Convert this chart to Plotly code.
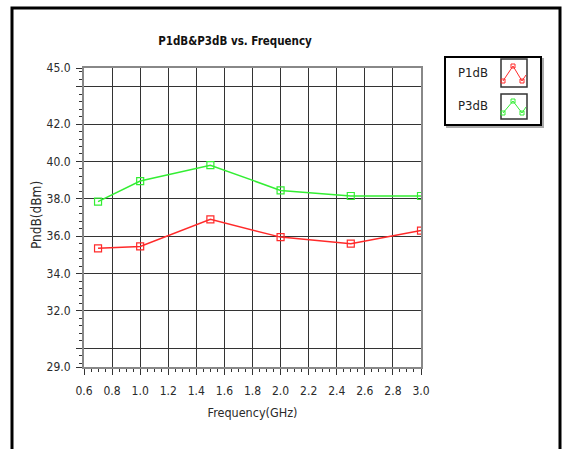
import plotly.graph_objects as go

freq = [0.7, 1.0, 1.5, 2.0, 2.5, 3.0]
p1db = [35.35, 35.45, 36.9, 35.95, 35.6, 36.3]
p3db = [37.85, 38.95, 39.8, 38.45, 38.15, 38.15]
y_tickvals = [29, 30, 32, 34, 36, 38, 40, 42, 44, 45]
y_ticktext = ["29.0", "", "32.0", "34.0", "36.0", "38.0", "40.0", "42.0", "", "45.0"]
x_tickvals = [0.6, 0.8, 1.0, 1.2, 1.4, 1.6, 1.8, 2.0, 2.2, 2.4, 2.6, 2.8, 3.0]
x_ticktext = ["%.1f" % v for v in x_tickvals]
series_names = ["P1dB", "P3dB"]
series_colors = ["#ff2a2a", "#33ee33"]

FONT = "Liberation Sans Narrow, DejaVu Sans Condensed, Roboto, sans-serif"
W, H = 567, 449
L, R, T, B = 84, 146, 68, 82
PW, PH = W - L - R, H - T - B


def px(x):
    return (x - L) / PW


def py(y):
    return (H - B - y) / PH


fig = go.Figure()
for name, vals, col in zip(series_names, [p1db, p3db], series_colors):
    fig.add_trace(go.Scatter(
        x=freq, y=vals, mode="lines+markers", name=name,
        line=dict(color=col, width=1.5),
        marker=dict(symbol="square-open", size=7, color=col, line=dict(width=1.2)),
        showlegend=False))

shapes = []
# outer frame
shapes.append(dict(type="rect", xref="paper", yref="paper",
                   x0=px(12), x1=px(560), y0=py(8), y1=py(470),
                   line=dict(color="black", width=3), layer="below"))
# legend shadow + box
shapes.append(dict(type="rect", xref="paper", yref="paper",
                   x0=px(447), x1=px(543), y0=py(59), y1=py(127),
                   line=dict(color="#aaaaaa", width=2), fillcolor="#aaaaaa"))
shapes.append(dict(type="rect", xref="paper", yref="paper",
                   x0=px(445), x1=px(541), y0=py(57), y1=py(125),
                   line=dict(color="black", width=2), fillcolor="white"))
annotations = []
icon_boxes = [(59, 87), (94, 119)]
for (yt, yb), name, col in zip(icon_boxes, series_names, series_colors):
    shapes.append(dict(type="rect", xref="paper", yref="paper",
                       x0=px(501), x1=px(527), y0=py(yt), y1=py(yb),
                       line=dict(color="#333333", width=1.5), fillcolor="white"))
    pts = [(503, yb - 6), (513, yt + 7), (522, yb - 6), (526, yb - 12)]
    path = "M " + " L ".join("%f,%f" % (px(a), py(b)) for a, b in pts)
    shapes.append(dict(type="path", xref="paper", yref="paper", path=path,
                       line=dict(color=col, width=1)))
    for a, b in pts[:3]:
        shapes.append(dict(type="rect", xref="paper", yref="paper",
                           x0=px(a - 2), x1=px(a + 2), y0=py(b - 2), y1=py(b + 2),
                           line=dict(color=col, width=1)))
    annotations.append(dict(text=name, xref="paper", yref="paper",
                            x=px(473), y=py((yt + yb) / 2 - 1), showarrow=False,
                            xanchor="center", yanchor="middle",
                            font=dict(family=FONT, size=13, color="#222222")))
# y axis title placed explicitly
annotations.append(dict(text="PndB(dBm)", xref="paper", yref="paper",
                        x=px(36), y=py(215), showarrow=False, textangle=-90,
                        xanchor="center", yanchor="middle",
                        font=dict(family=FONT, size=13.5, color="#2a2a2a")))

fig.update_layout(
    width=W, height=H,
    margin=dict(l=L, r=R, t=T, b=B),
    paper_bgcolor="white", plot_bgcolor="white",
    title=dict(text="<b>P1dB&P3dB vs. Frequency</b>", x=235 / W, xanchor="center",
               y=1 - 41 / H, yanchor="middle",
               font=dict(family=FONT, size=11.5, color="#111111")),
    shapes=shapes, annotations=annotations,
    font=dict(family=FONT, size=12, color="#2a2a2a"),
)
fig.update_xaxes(
    range=[0.6, 3.0], tickmode="array", tickvals=x_tickvals, ticktext=x_ticktext,
    showgrid=True, gridcolor="#333333", gridwidth=1.3,
    showline=True, linecolor="#888888", linewidth=2, mirror=True,
    ticks="outside", ticklen=6, tickcolor="#333333", ticklabelstandoff=6,
    minor=dict(dtick=0.05, tick0=0.6, ticks="outside", ticklen=3, tickcolor="#333333", showgrid=False),
    title=dict(text="Frequency(GHz)", standoff=11, font=dict(size=12.5)),
    zeroline=False,
)
fig.update_yaxes(
    range=[29, 45], tickmode="array", tickvals=y_tickvals, ticktext=y_ticktext,
    showgrid=True, gridcolor="#333333", gridwidth=1.3,
    showline=True, linecolor="#888888", linewidth=2, mirror=True,
    ticks="outside", ticklen=6, tickcolor="#333333", ticklabelstandoff=3,
    minor=dict(dtick=0.4, tick0=0, ticks="outside", ticklen=3, tickcolor="#333333", showgrid=False),
    zeroline=False,
)
fig.write_html("out.html", post_script="document.body.style.margin='0';",
               config={"displayModeBar": False})
